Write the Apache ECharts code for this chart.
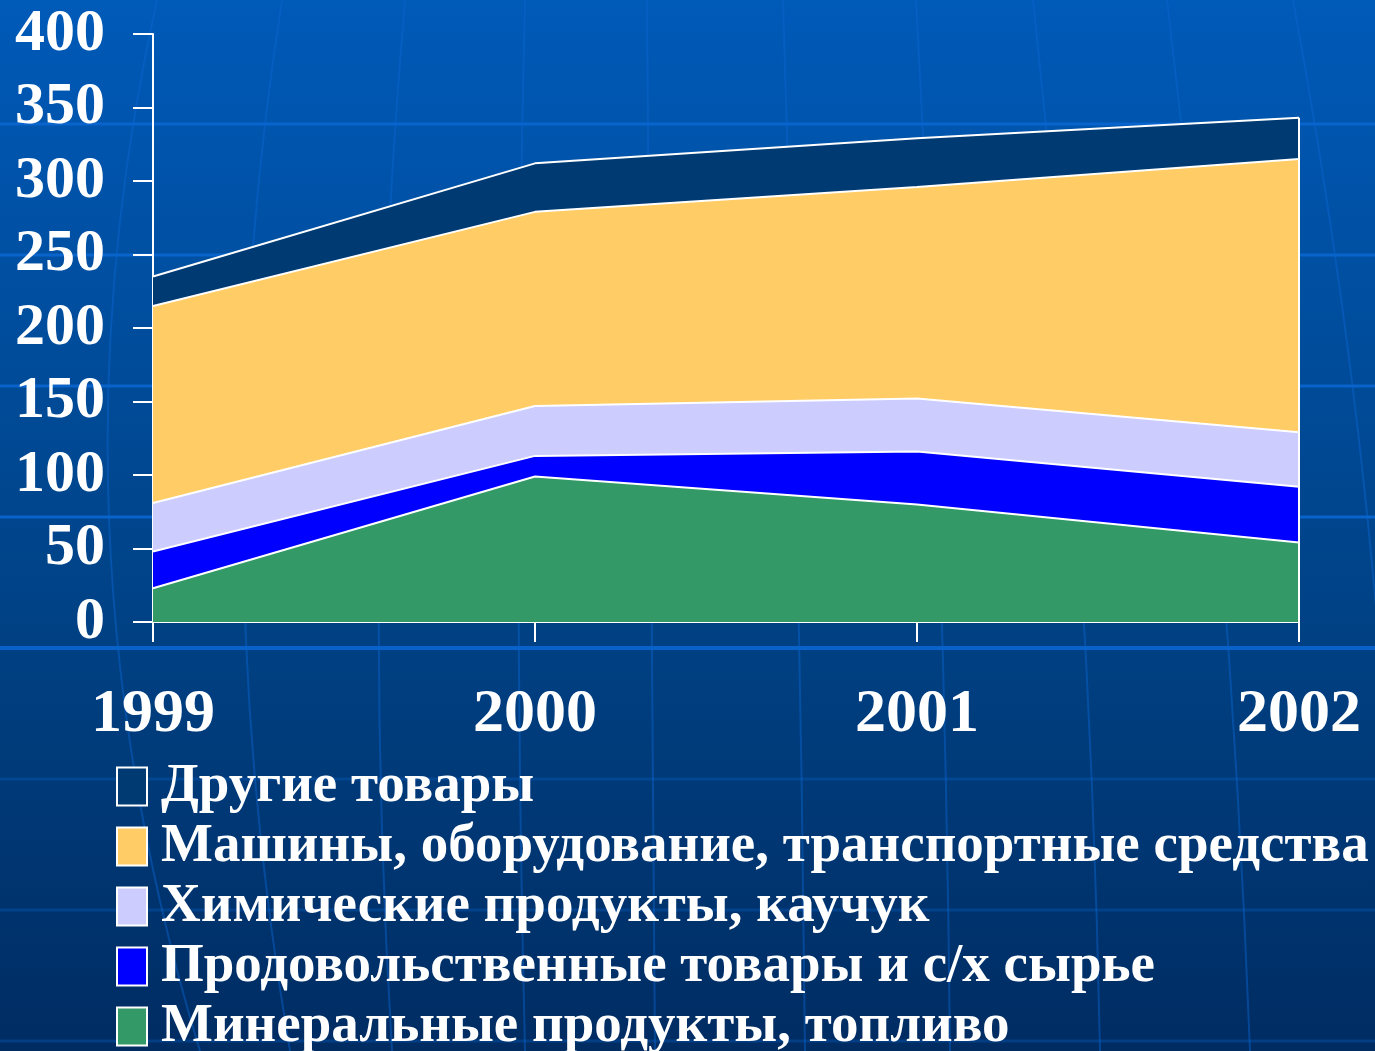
<!DOCTYPE html>
<html>
<head>
    <meta charset="utf-8">
    <title>Структура импорта</title>
    <script src="https://cdn.jsdelivr.net/npm/echarts@6/dist/echarts.min.js"></script>
    <style>
        html, body { margin: 0; padding: 0; }
    </style>
</head>
<body>
<div id="main" style="width:1375px;height:1051px;"></div>
<script type="text/javascript">
    // данные
    var years = ['1999', '2000', '2001', '2002'];
    var yTicks = [0, 50, 100, 150, 200, 250, 300, 350, 400];

    var mineral = [23, 99, 80, 54];     // Минеральные продукты, топливо
    var food = [25, 14, 36, 38];        // Продовольственные товары и с/х сырье
    var chem = [33, 34, 36, 37];        // Химические продукты, каучук
    var machines = [134, 132, 144, 186];// Машины, оборудование, транспортные средства
    var other = [20, 33, 33, 28];       // Другие товары

    var names = [
        'Другие товары',
        'Машины, оборудование, транспортные средства',
        'Химические продукты, каучук',
        'Продовольственные товары и с/х сырье',
        'Минеральные продукты, топливо'
    ];

    var myChart = echarts.init(document.getElementById('main'));

    function layer(name, data, color) {
        return {
            name: name,
            type: 'line',
            stack: 'all',
            data: data,
            showSymbol: false,
            symbol: 'rect',
            silent: true,
            itemStyle: { color: color },
            lineStyle: { color: '#ffffff', width: 2 },
            areaStyle: { color: color, opacity: 1 }
        };
    }

    // итоговая высота последнего года (для правой границы)
    var last = years.length - 1;
    var lastTotal = mineral[last] + food[last] + chem[last] + machines[last] + other[last];

    // фон: сетка «глобуса»
    var deco = [];
    var hLines = [124, 255, 386, 517, 648, 779, 910, 1041];
    hLines.forEach(function (y, i) {
        deco.push({
            type: 'line', z: -10, silent: true,
            shape: { x1: 0, y1: y, x2: 1375, y2: y },
            style: { stroke: '#0a66d0', lineWidth: y === 648 ? 4 : 3, opacity: i < 5 ? 0.9 : 0.3 }
        });
    });
    var meridians = [
        [157, 40, 200], [282, 200, 290], [405, 360, 392], [525, 512, 525],
        [647, 652, 655], [783, 800, 805], [916, 945, 950], [1033, 1090, 1100],
        [1167, 1230, 1250], [1293, 1390, 1400]
    ];
    meridians.forEach(function (m) {
        deco.push({
            type: 'bezierCurve', z: -10, silent: true,
            shape: { x1: m[0], y1: 0, cpx1: m[1], cpy1: 525, x2: m[2], y2: 1051 },
            style: { stroke: '#0a66d0', lineWidth: 2, opacity: 0.45, fill: null }
        });
    });

    var option = {
        backgroundColor: {
            type: 'linear', x: 0, y: 0, x2: 0, y2: 1,
            colorStops: [
                { offset: 0, color: '#005ab8' },
                { offset: 0.6, color: '#004184' },
                { offset: 1, color: '#002c62' }
            ]
        },
        animation: false,
        textStyle: { fontFamily: 'Liberation Serif' },
        graphic: { elements: deco },
        grid: { left: 153, right: 76, top: 34, bottom: 429 },
        legend: {
            orient: 'vertical',
            left: 111,
            top: 754,
            height: 300,
            data: names,
            icon: 'rect',
            itemWidth: 30,
            itemHeight: 38,
            itemGap: 5,
            itemStyle: { borderColor: '#ffffff', borderWidth: 2 },
            lineStyle: { opacity: 0 },
            selectedMode: false,
            textStyle: {
                color: '#ffffff', fontSize: 55, fontWeight: 'bold',
                fontFamily: 'Liberation Serif', padding: [0, 0, 0, 9]
            }
        },
        xAxis: {
            type: 'category',
            data: years,
            boundaryGap: false,
            axisLine: { lineStyle: { color: '#ffffff', width: 2 } },
            axisTick: { show: true, inside: false, length: 20, lineStyle: { color: '#ffffff', width: 2 } },
            axisLabel: {
                color: '#ffffff', fontSize: 62, fontWeight: 'bold',
                fontFamily: 'Liberation Serif', margin: 62
            },
            splitLine: { show: false }
        },
        yAxis: {
            type: 'value',
            min: yTicks[0],
            max: yTicks[yTicks.length - 1],
            interval: 50,
            axisLine: { show: true, lineStyle: { color: '#ffffff', width: 2 } },
            axisTick: { show: true, inside: false, length: 20, lineStyle: { color: '#ffffff', width: 2 } },
            axisLabel: {
                color: '#ffffff', fontSize: 60, fontWeight: 'bold',
                fontFamily: 'Liberation Serif', margin: 48
            },
            splitLine: { show: false }
        },
        series: [
            layer(names[4], mineral, '#339966'),
            layer(names[3], food, '#0000ff'),
            layer(names[2], chem, '#ccccff'),
            layer(names[1], machines, '#ffcc66'),
            layer(names[0], other, '#003a72'),
            {
                name: 'edge',
                type: 'line',
                data: [[last, 0], [last, lastTotal]],
                showSymbol: false,
                silent: true,
                z: 5,
                lineStyle: { color: '#ffffff', width: 2 }
            }
        ]
    };

    myChart.setOption(option);
</script>
</body>
</html>
